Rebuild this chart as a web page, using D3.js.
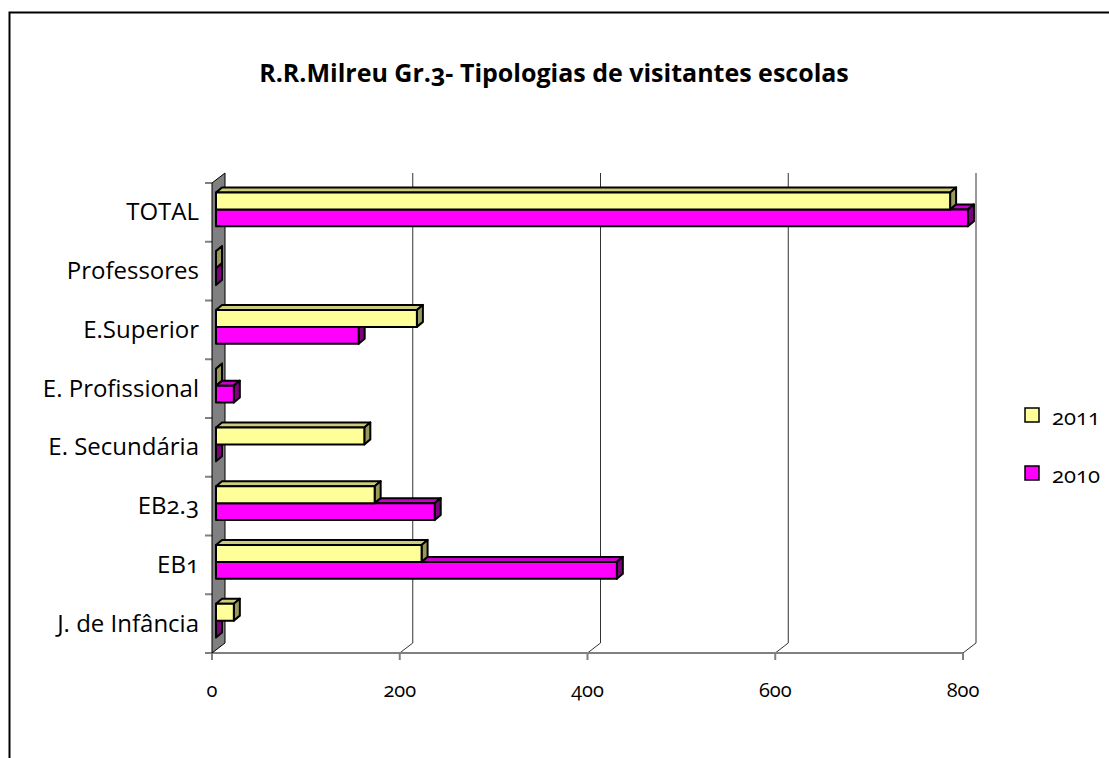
<!DOCTYPE html>
<html>
<head>
<meta charset="utf-8">
<script src="https://cdn.jsdelivr.net/npm/d3@7"></script>
<style>
  body { margin: 0; background: #fff; }
  svg text { font-family: "Open Sans", sans-serif; font-feature-settings: "onum" 1; font-variant-numeric: oldstyle-nums; }
</style>
</head>
<body>
<div class="plot"></div>
<script>
// data (bottom to top as drawn)
const categories = ["J. de Infância", "EB1", "EB2.3", "E. Secundária", "E. Profissional", "E.Superior", "Professores", "TOTAL"];
const series = ["2011", "2010"];
const values2011 = [19, 219, 169, 158, 0, 214, 0, 782];
const values2010 = [0, 427, 233, 0, 19, 152, 0, 801];
const xTicks = [0, 200, 400, 600, 800];
const title = "R.R.Milreu Gr.3- Tipologias de visitantes escolas";

const W = 1109, H = 758;
const plot = {left: 212, right: 963, top: 183, bottom: 653};
const DX = 13, DY = -10;        // depth of the wall / floor
const BX = 4, BY = -3;          // bar front plane offset
const BDX = 6, BDY = -5;        // bar depth

const colors = {
    "2011": {front: "#FFFF99", top: "#CCCC7A", side: "#99995C"},
    "2010": {front: "#FF00FF", top: "#CC00CC", side: "#800080"}
};

const svg = d3.select(".plot")
    .append("svg")
        .attr("width", W)
        .attr("height", H);

// outer frame
svg.append("rect")
    .attr("x", 9.5).attr("y", 12.5)
    .attr("width", 1200).attr("height", 900)
    .attr("fill", "#fff")
    .attr("stroke", "#000")
    .attr("stroke-width", 2);

// title
svg.append("text")
    .attr("x", 554)
    .attr("y", 82)
    .attr("text-anchor", "middle")
    .style("font-weight", "bold")
    .style("font-size", "25px")
    .text(title);

const x = d3.scaleLinear().domain([0, 800]).range([plot.left, plot.right]);
const y = d3.scaleBand().domain(categories).range([plot.bottom, plot.top]);
const ys = d3.scaleBand().domain(series).range([0, y.bandwidth()]).paddingInner(0).paddingOuter(0.73);

// back wall gridlines + floor diagonals
const grid = svg.append("g").attr("stroke", "#333").attr("stroke-width", 1).attr("fill", "none");
xTicks.filter(d => d > 0).forEach(v => {
    grid.append("path")
        .attr("d", d3.line()([
            [x(v), plot.bottom],
            [x(v) + DX, plot.bottom + DY],
            [x(v) + DX, plot.top + DY]
        ]));
});

// floor front line and ticks
const axisG = svg.append("g").attr("stroke", "#808080").attr("stroke-width", 2);
axisG.append("line")
    .attr("x1", plot.left - 7).attr("x2", x(800))
    .attr("y1", plot.bottom).attr("y2", plot.bottom);
xTicks.forEach(v => {
    axisG.append("line")
        .attr("x1", x(v)).attr("x2", x(v))
        .attr("y1", plot.bottom).attr("y2", plot.bottom + 7);
});
// category ticks
const bounds = categories.map(c => y(c)).concat([plot.bottom]);
bounds.forEach(b => {
    axisG.append("line")
        .attr("x1", plot.left - 7).attr("x2", plot.left)
        .attr("y1", b).attr("y2", b);
});

// left wall
svg.append("path")
    .attr("d", d3.line()([
        [plot.left, plot.bottom],
        [plot.left, plot.top],
        [plot.left + DX, plot.top + DY],
        [plot.left + DX, plot.bottom + DY]
    ]) + "Z")
    .attr("fill", "#808080")
    .attr("stroke", "#000")
    .attr("stroke-width", 1);

// x tick labels
svg.append("g")
    .selectAll("text")
    .data(xTicks)
    .enter()
    .append("text")
        .attr("x", d => x(d))
        .attr("y", 697)
        .attr("text-anchor", "middle")
        .style("font-size", "20px")
        .text(d => d);

// category labels
svg.append("g")
    .selectAll("text")
    .data(categories)
    .enter()
    .append("text")
        .attr("x", 199)
        .attr("y", d => y(d) + y.bandwidth() / 2 + 8)
        .attr("text-anchor", "end")
        .style("font-size", "24px")
        .text(d => d);

// bars, drawn 2010 first so 2011 sits over its top face
const barData = [];
categories.forEach((c, i) => {
    barData.push({cat: c, s: "2010", v: values2010[i]});
    barData.push({cat: c, s: "2011", v: values2011[i]});
});

const bars = svg.append("g")
    .selectAll("g")
    .data(barData)
    .enter()
    .append("g")
    .attr("stroke", "#000")
    .attr("stroke-width", 2)
    .attr("stroke-linejoin", "round");

const geo = d => {
    const x0 = x(0) + BX, x1 = x(d.v) + BX;
    const y0 = y(d.cat) + ys(d.s) + BY, y1 = y0 + ys.bandwidth();
    return {x0, x1, y0, y1};
};

bars.append("path")
    .attr("fill", d => colors[d.s].top)
    .attr("d", d => {
        const g = geo(d);
        return d3.line()([[g.x0, g.y0], [g.x0 + BDX, g.y0 + BDY], [g.x1 + BDX, g.y0 + BDY], [g.x1, g.y0]]) + "Z";
    });

bars.append("path")
    .attr("fill", d => colors[d.s].side)
    .attr("d", d => {
        const g = geo(d);
        return d3.line()([[g.x1, g.y0], [g.x1 + BDX, g.y0 + BDY], [g.x1 + BDX, g.y1 + BDY], [g.x1, g.y1]]) + "Z";
    });

bars.append("rect")
    .attr("fill", d => colors[d.s].front)
    .attr("x", d => geo(d).x0)
    .attr("y", d => geo(d).y0)
    .attr("width", d => geo(d).x1 - geo(d).x0)
    .attr("height", ys.bandwidth());

// legend
const legend = svg.append("g")
    .selectAll("g")
    .data(series)
    .enter()
    .append("g")
    .attr("transform", (d, i) => "translate(1025," + (408 + i * 58) + ")");

legend.append("rect")
    .attr("width", 14)
    .attr("height", 14)
    .attr("fill", d => colors[d].front)
    .attr("stroke", "#000")
    .attr("stroke-width", 1.5);

legend.append("text")
    .attr("x", 27)
    .attr("y", 17)
    .style("font-size", "22px")
    .text(d => d);
</script>
</body>
</html>
